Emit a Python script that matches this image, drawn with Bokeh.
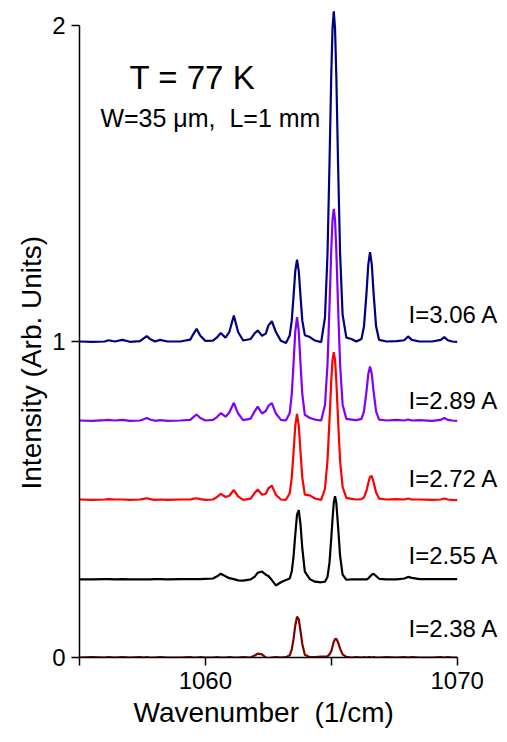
from bokeh.plotting import figure
from bokeh.models import Range1d, Label, FixedTicker, Title
from bokeh.embed import file_html
from bokeh.resources import INLINE

# ---- data ----
wavenumber = [
    1055.0, 1055.5, 1056.0, 1056.15, 1056.4, 1056.7, 1057.0, 1057.4, 1057.55, 1057.67,
    1057.8, 1058.0, 1058.2, 1058.5, 1059.0, 1059.4, 1059.5, 1059.65, 1059.8, 1060.0,
    1060.3, 1060.45, 1060.61, 1060.8, 1060.95, 1061.13, 1061.3, 1061.5, 1061.8, 1061.95,
    1062.08, 1062.25, 1062.4, 1062.5, 1062.64, 1062.8, 1063.0, 1063.2, 1063.35, 1063.43,
    1063.5, 1063.57, 1063.64, 1063.71, 1063.78, 1063.85, 1063.95, 1064.15, 1064.35, 1064.6,
    1064.75, 1064.85, 1064.93, 1065.0, 1065.05, 1065.1, 1065.15, 1065.2, 1065.27, 1065.35,
    1065.45, 1065.6, 1065.8, 1066.0, 1066.2, 1066.3, 1066.4, 1066.47, 1066.54, 1066.61,
    1066.68, 1066.78, 1066.9, 1067.2, 1067.6, 1067.9, 1068.05, 1068.2, 1068.5, 1069.0,
    1069.35, 1069.49, 1069.63, 1069.8, 1070.0,
]

i_306 = [
    1.000, 0.999, 1.000, 1.004, 1.000, 1.005, 0.999, 1.001, 1.010, 1.017,
    1.008, 1.000, 1.005, 1.000, 1.000, 1.006, 1.020, 1.040, 1.018, 1.002,
    1.003, 1.012, 1.027, 1.012, 1.030, 1.082, 1.030, 1.003, 1.008, 1.025,
    1.035, 1.018, 1.025, 1.050, 1.064, 1.030, 1.002, 0.995, 1.019, 1.066,
    1.141, 1.222, 1.259, 1.222, 1.141, 1.066, 1.020, 1.014, 1.003, 0.998,
    1.076, 1.275, 1.564, 1.844, 1.990, 2.045, 1.990, 1.844, 1.564, 1.280,
    1.085, 1.012, 1.008, 1.000, 1.008, 1.048, 1.154, 1.243, 1.283, 1.243,
    1.154, 1.048, 1.005, 1.000, 1.001, 1.004, 1.016, 1.005, 1.000, 1.000,
    1.005, 1.014, 1.004, 1.000, 0.999,
]

i_289 = [
    0.750, 0.749, 0.751, 0.752, 0.750, 0.752, 0.749, 0.750, 0.754, 0.758,
    0.753, 0.749, 0.751, 0.749, 0.750, 0.752, 0.759, 0.769, 0.758, 0.750,
    0.752, 0.760, 0.773, 0.762, 0.775, 0.806, 0.772, 0.751, 0.756, 0.778,
    0.794, 0.772, 0.780, 0.796, 0.805, 0.772, 0.752, 0.750, 0.774, 0.833,
    0.928, 1.031, 1.077, 1.031, 0.928, 0.833, 0.768, 0.758, 0.753, 0.750,
    0.799, 0.926, 1.112, 1.290, 1.385, 1.420, 1.385, 1.290, 1.112, 0.928,
    0.800, 0.755, 0.753, 0.751, 0.755, 0.779, 0.843, 0.897, 0.921, 0.897,
    0.843, 0.779, 0.753, 0.750, 0.752, 0.750, 0.753, 0.750, 0.751, 0.749,
    0.752, 0.758, 0.752, 0.750, 0.749,
]

i_272 = [
    0.500, 0.499, 0.500, 0.501, 0.500, 0.500, 0.499, 0.500, 0.502, 0.504,
    0.501, 0.499, 0.500, 0.499, 0.500, 0.500, 0.502, 0.504, 0.501, 0.499,
    0.500, 0.507, 0.518, 0.508, 0.512, 0.530, 0.510, 0.499, 0.503, 0.520,
    0.532, 0.515, 0.518, 0.535, 0.544, 0.515, 0.500, 0.499, 0.520, 0.569,
    0.648, 0.733, 0.771, 0.733, 0.648, 0.569, 0.515, 0.513, 0.503, 0.499,
    0.534, 0.623, 0.752, 0.877, 0.942, 0.966, 0.942, 0.877, 0.752, 0.623,
    0.540, 0.505, 0.502, 0.500, 0.501, 0.507, 0.528, 0.552, 0.572, 0.574,
    0.555, 0.522, 0.503, 0.500, 0.501, 0.500, 0.503, 0.500, 0.500, 0.499,
    0.500, 0.503, 0.500, 0.499, 0.498,
]

i_255 = [
    0.247, 0.247, 0.248, 0.248, 0.247, 0.248, 0.247, 0.247, 0.247, 0.247,
    0.247, 0.248, 0.248, 0.247, 0.248, 0.248, 0.248, 0.248, 0.248, 0.249,
    0.250, 0.256, 0.265, 0.257, 0.251, 0.248, 0.244, 0.243, 0.247, 0.255,
    0.268, 0.272, 0.262, 0.258, 0.245, 0.228, 0.238, 0.245, 0.250, 0.272,
    0.318, 0.388, 0.452, 0.466, 0.420, 0.345, 0.272, 0.248, 0.240, 0.238,
    0.240, 0.255, 0.300, 0.378, 0.438, 0.490, 0.510, 0.490, 0.415, 0.322,
    0.262, 0.246, 0.247, 0.247, 0.247, 0.247, 0.247, 0.250, 0.256, 0.262,
    0.265, 0.258, 0.249, 0.247, 0.247, 0.250, 0.255, 0.252, 0.248, 0.248,
    0.248, 0.248, 0.248, 0.248, 0.248,
]

i_238 = [
    0.000, 0.001, 0.000, 0.001, 0.000, 0.001, 0.000, 0.001, 0.000, 0.001,
    0.000, 0.000, 0.001, 0.000, 0.000, 0.001, 0.000, 0.000, 0.001, 0.000,
    0.000, 0.001, 0.000, 0.000, 0.001, 0.000, 0.000, 0.001, 0.000, 0.006,
    0.012, 0.010, 0.000, -0.002, 0.000, 0.001, 0.000, 0.001, 0.007, 0.025,
    0.058, 0.101, 0.129, 0.121, 0.083, 0.043, 0.009, 0.001, 0.001, 0.003,
    0.003, 0.004, 0.010, 0.020, 0.035, 0.050, 0.058, 0.059, 0.048, 0.028,
    0.010, 0.002, 0.000, 0.001, 0.000, 0.001, 0.000, 0.001, 0.001, 0.000,
    0.001, 0.000, 0.000, 0.001, 0.000, 0.001, 0.000, 0.001, 0.000, 0.000,
    0.001, 0.000, 0.001, 0.000, 0.000,
]

series_values = [i_306, i_289, i_272, i_255, i_238]
series_labels = ["I=3.06 A", "I=2.89 A", "I=2.72 A", "I=2.55 A", "I=2.38 A"]
series_colors = ["#000080", "#8000FF", "#FF0000", "#000000", "#800000"]
label_y = [1.085, 0.813, 0.566, 0.323, 0.092]
label_x = 1068.07

x_ticks = [1055, 1060, 1065, 1070]
x_tick_labels = {1055: "", 1060: "1060", 1065: "", 1070: "1070"}
y_ticks = [0, 1, 2]

FONT = "Liberation Sans"
NB = "\u00a0"

p = figure(
    width=507, height=742,
    output_backend="svg", toolbar_location=None,
    x_range=Range1d(1055, 1072.0), y_range=Range1d(0, 2.079),
    min_border_left=79, min_border_right=0,
    min_border_top=0, min_border_bottom=85,
)
p.outline_line_color = None
p.grid.visible = False
p.background_fill_color = "white"
p.border_fill_color = "white"

for vals, col in zip(series_values, series_colors):
    p.line(wavenumber, vals, line_color=col, line_width=2.2)

for txt, yv in zip(series_labels, label_y):
    p.add_layout(Label(x=label_x, y=yv, text=txt, text_font=FONT,
                       text_font_size="24px", text_baseline="middle",
                       text_align="left", text_color="black"))

p.add_layout(Label(x=1056.99, y=1.834, text="T = 77 K", text_font=FONT,
                   text_font_size="33px", text_baseline="middle", text_color="black"))
p.add_layout(Label(x=1055.83, y=1.706, text="W=35 \u03bcm," + NB + " L=1 mm", text_font=FONT,
                   text_font_size="25px", text_baseline="middle", text_color="black"))

xa = p.xaxis[0]
xa.ticker = FixedTicker(ticks=x_ticks)
xa.major_label_overrides = x_tick_labels
xa.bounds = (1055, 1070)

ya = p.yaxis[0]
ya.ticker = FixedTicker(ticks=y_ticks)
ya.bounds = (0, 2)

for ax in (xa, ya):
    ax.minor_tick_line_color = None
    ax.major_tick_in = 0
    ax.major_tick_out = 8
    ax.axis_line_width = 1.5
    ax.major_tick_line_width = 1.5
    ax.axis_line_color = "black"
    ax.major_tick_line_color = "black"
    ax.major_label_text_font = FONT
    ax.major_label_text_font_size = "24px"
    ax.major_label_text_color = "black"
    ax.major_label_standoff = 6

ya.major_label_orientation = "horizontal"

# axis titles, positioned like the original (x title centred under the drawn axis)
p.add_layout(Title(text="Wavenumber" + NB + " (1/cm)", align="left", offset=54,
                   text_font=FONT, text_font_size="28px", text_font_style="normal",
                   text_color="black", standoff=8, vertical_align="middle"), "below")
p.add_layout(Title(text="Intensity (Arb. Units)", align="left", offset=168,
                   text_font=FONT, text_font_size="28px", text_font_style="normal",
                   text_color="black", standoff=4, vertical_align="middle"), "left")

open("out.html", "w").write(file_html(p, INLINE))
